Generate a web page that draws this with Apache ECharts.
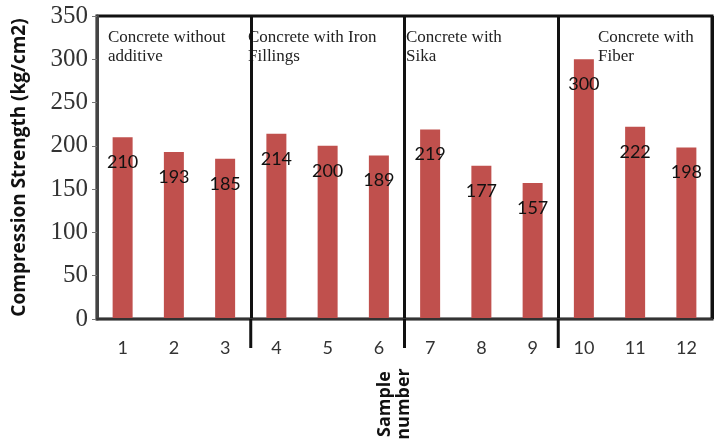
<!DOCTYPE html>
<html>
<head>
<meta charset="utf-8">
<script src="https://cdn.jsdelivr.net/npm/echarts@6/dist/echarts.min.js"></script>
<style>
  html, body { margin: 0; padding: 0; background: #fff; }
  #chart { width: 716px; height: 446px; }
</style>
</head>
<body>
<div id="chart"></div>
<script>
// Sample numbers along the x axis
const samples = ['1', '2', '3', '4', '5', '6', '7', '8', '9', '10', '11', '12'];
// Compression strength of each sample (kg/cm2)
const strength = [210, 193, 185, 214, 200, 189, 219, 177, 157, 300, 222, 198];
// Mix groups: name and the index of the first sample in each group
const groupNames = ['Concrete without\nadditive', 'Concrete with Iron\nFillings', 'Concrete with\nSika', 'Concrete with\nFiber'];
const groupStarts = [0, 3, 6, 9];
// Y axis ticks
const yMin = 0, yMax = 350, yStep = 50;

const chart = echarts.init(document.getElementById('chart'));

const isDivider = (i) => groupStarts.indexOf(i) > 0;

const option = {
  animation: false,
  grid: {
    left: 97, right: 4, top: 16, bottom: 127,
    show: true, borderColor: '#111', borderWidth: 3, backgroundColor: 'transparent'
  },
  xAxis: {
    type: 'category',
    data: samples,
    boundaryGap: true,
    axisLine: { show: true, lineStyle: { color: '#333', width: 2 } },
    axisTick: { show: false },
    splitLine: { show: true, interval: isDivider, lineStyle: { color: '#111', width: 3 } },
    axisLabel: { interval: 0, margin: 20, color: '#333', fontFamily: 'Lato', fontSize: 18 },
    z: 5
  },
  yAxis: {
    type: 'value',
    min: yMin, max: yMax, interval: yStep,
    name: 'Compression Strength (kg/cm2)',
    nameLocation: 'middle',
    nameGap: 68,
    nameTextStyle: { fontFamily: 'Open Sans', fontWeight: 'bold', fontSize: 19, color: '#111' },
    axisLine: { show: true, lineStyle: { color: '#444', width: 3 } },
    axisTick: { show: true, length: 5, lineStyle: { color: '#777', width: 1 } },
    splitLine: { show: false },
    axisLabel: { margin: 9, color: '#333', fontFamily: 'Liberation Serif', fontSize: 25 }
  },
  series: [{
    type: 'bar',
    data: strength,
    barWidth: 20,
    itemStyle: { color: '#c0504d' },
    label: {
      show: true,
      position: 'insideTop',
      distance: 16,
      color: '#111',
      fontFamily: 'Lato',
      fontSize: 18
    }
  }]
};

chart.setOption(option);

// Group captions, divider extensions below the axis, and the rotated x axis title
const groupTextX = [108, 248, 406, 598];
const graphics = groupNames.map((name, k) => ({
  type: 'text',
  left: groupTextX[k],
  top: 28,
  style: {
    text: name,
    fontFamily: 'Liberation Serif',
    fontSize: 17,
    lineHeight: 19,
    fill: '#222'
  }
}));

const axisY = chart.convertToPixel({ yAxisIndex: 0 }, yMin);
groupStarts.slice(1).forEach((start) => {
  const xa = chart.convertToPixel({ xAxisIndex: 0 }, samples[start - 1]);
  const xb = chart.convertToPixel({ xAxisIndex: 0 }, samples[start]);
  const x = (xa + xb) / 2;
  graphics.push({
    type: 'line',
    shape: { x1: x, y1: axisY, x2: x, y2: axisY + 29 },
    style: { stroke: '#111', lineWidth: 3 },
    z: 10
  });
});

graphics.push({
  type: 'text',
  x: 394,
  y: 404,
  rotation: Math.PI / 2,
  style: {
    text: 'Sample\nnumber',
    fontFamily: 'Open Sans',
    fontWeight: 'bold',
    fontSize: 18,
    lineHeight: 19,
    fill: '#111',
    align: 'center',
    verticalAlign: 'middle'
  }
});

chart.setOption({ graphic: graphics });
</script>
</body>
</html>
